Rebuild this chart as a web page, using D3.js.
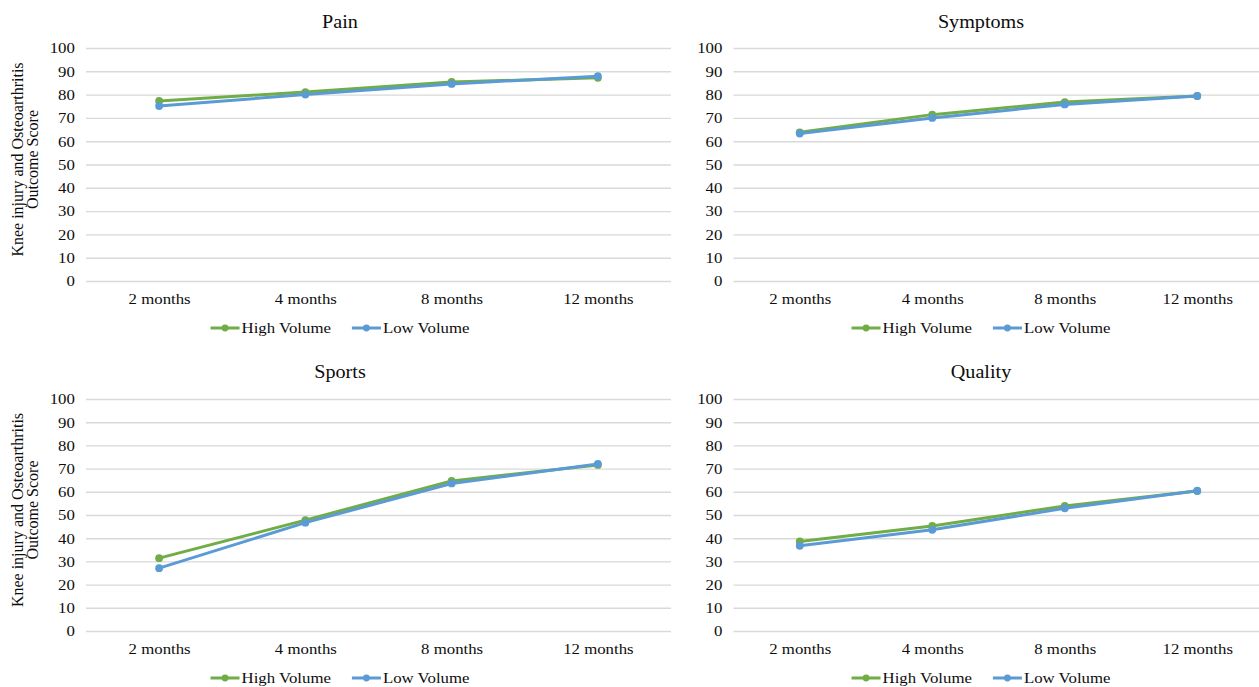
<!DOCTYPE html>
<html>
<head>
<meta charset="utf-8">
<script src="https://cdn.jsdelivr.net/npm/d3@7"></script>
<style>
  html, body { margin: 0; padding: 0; background: #fff; }
  svg { display: block; }
  text { font-family: "Liberation Serif", "Times New Roman", serif; fill: #0d0d0d; }
</style>
</head>
<body>
<svg id="chart" width="1259" height="687"></svg>
<script>
// ---------- data ----------
const categories = ["2 months", "4 months", "8 months", "12 months"];
const yTicks = [0, 10, 20, 30, 40, 50, 60, 70, 80, 90, 100];
const seriesNames = ["High Volume", "Low Volume"];
const panelTitles = ["Pain", "Symptoms", "Sports", "Quality"];
const yAxisTitle = ["Knee injury and Osteoarthritis", "Outcome Score"];

const painHigh = [77.3, 81.1, 85.4, 87.2];
const painLow = [75.1, 80.0, 84.6, 87.9];
const symptomsHigh = [63.8, 71.4, 76.8, 79.4];
const symptomsLow = [63.3, 70.0, 75.8, 79.4];
const sportsHigh = [31.4, 47.8, 64.7, 71.6];
const sportsLow = [27.1, 46.7, 63.6, 72.0];
const qualityHigh = [38.6, 45.3, 53.9, 60.3];
const qualityLow = [36.7, 43.6, 52.9, 60.5];

// ---------- layout / style ----------
const colors = ["#70AD47", "#5B9BD5"];
const SX = 1.12; // horizontal stretch of the reference's lettering
const layout = [
  { title: panelTitles[0], data: [painHigh, painLow], x0: 86, x1: 671, yTop: 48, yBot: 281, cx: 340, titleY: 28, yTitle: true },
  { title: panelTitles[1], data: [symptomsHigh, symptomsLow], x0: 733.5, x1: 1263.5, yTop: 48, yBot: 281, cx: 981, titleY: 28, yTitle: false },
  { title: panelTitles[2], data: [sportsHigh, sportsLow], x0: 86, x1: 671, yTop: 399, yBot: 631, cx: 340, titleY: 378, yTitle: true },
  { title: panelTitles[3], data: [qualityHigh, qualityLow], x0: 733.5, x1: 1263.5, yTop: 399, yBot: 631, cx: 981, titleY: 378, yTitle: false }
];

const svg = d3.select("#chart");

function stretchedText(parent, x, y, str, size, anchor) {
  const g = parent.append("g").attr("transform", `translate(${x},${y}) scale(${SX},1)`);
  return g.append("text").attr("text-anchor", anchor || "middle")
    .style("font-size", size + "px").text(str);
}

layout.forEach(p => {
  const g = svg.append("g");
  const x = d3.scalePoint().domain(categories).range([p.x0, p.x1]).padding(0.5);
  const y = d3.scaleLinear().domain([0, 100]).range([p.yBot, p.yTop]);

  // y axis with gridlines
  const ya = g.append("g").attr("transform", `translate(${p.x0},0)`)
    .call(d3.axisLeft(y).tickValues(yTicks).tickSize(-(p.x1 - p.x0)).tickPadding(10).tickFormat(d3.format("d")));
  ya.select(".domain").remove();
  ya.selectAll(".tick line").attr("stroke", "#d9d9d9").attr("stroke-width", 1.4);
  ya.selectAll(".tick text").style("font-size", "15px").attr("fill", "#0d0d0d")
    .attr("font-family", "Liberation Serif").attr("transform", `scale(${SX},1)`);

  // x axis labels
  const xa = g.append("g").attr("transform", `translate(0,${p.yBot})`)
    .call(d3.axisBottom(x).tickSize(0).tickPadding(12));
  xa.select(".domain").remove();
  xa.selectAll(".tick text").style("font-size", "15px").attr("fill", "#0d0d0d")
    .attr("font-family", "Liberation Serif").attr("transform", `scale(${SX},1)`);

  // title
  stretchedText(g, p.cx, p.titleY, p.title, 18, "middle");

  // y axis title
  if (p.yTitle) {
    const cy = (p.yTop + p.yBot) / 2 - 5;
    const t = g.append("text").attr("transform", `translate(23,${cy}) rotate(-90)`)
      .attr("text-anchor", "middle").style("font-size", "16px");
    t.append("tspan").attr("x", 0).attr("dy", 0).text(yAxisTitle[0]);
    t.append("tspan").attr("x", 0).attr("dy", 14.5).text(yAxisTitle[1]);
  }

  // series
  const line = d3.line().x((d, i) => x(categories[i])).y(d => y(d));
  p.data.forEach((vals, si) => {
    g.append("path").datum(vals).attr("d", line).attr("fill", "none")
      .attr("stroke", colors[si]).attr("stroke-width", 3).attr("stroke-linejoin", "round");
    g.selectAll(null).data(vals).enter().append("circle")
      .attr("cx", (d, i) => x(categories[i])).attr("cy", d => y(d)).attr("r", 3.9)
      .attr("fill", colors[si]);
  });

  // legend
  const ly = p.yBot + 47;
  const lg = g.append("g");
  const items = seriesNames.map((name, si) => {
    const ig = lg.append("g");
    ig.append("line").attr("x1", 0).attr("x2", 29).attr("y1", 0).attr("y2", 0)
      .attr("stroke", colors[si]).attr("stroke-width", 3);
    ig.append("circle").attr("cx", 14.5).attr("cy", 0).attr("r", 3.4).attr("fill", colors[si]);
    const tg = ig.append("g").attr("transform", `translate(31,5) scale(${SX},1)`);
    const tx = tg.append("text").style("font-size", "15px").text(name);
    const w = 31 + tx.node().getComputedTextLength() * SX;
    return { ig, w };
  });
  const gap = 21;
  const total = d3.sum(items, d => d.w) + gap * (items.length - 1);
  let cur = p.cx - total / 2;
  items.forEach(it => {
    it.ig.attr("transform", `translate(${cur},${ly})`);
    cur += it.w + gap;
  });
});
</script>
</body>
</html>
